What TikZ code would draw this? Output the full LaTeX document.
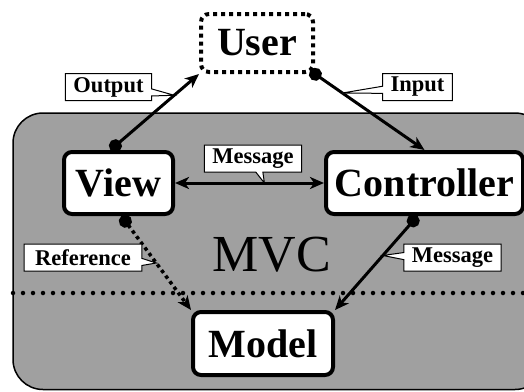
\documentclass[tikz,border=0pt]{standalone}
\usepackage{fontspec}
\setmainfont{Liberation Serif}
\usepackage{xcolor}
\usetikzlibrary{positioning, shapes.callouts, arrows.meta}
\definecolor{mvcgray}{RGB}{160,160,160}

\tikzset{
  part/.style={draw, line width=4pt, rounded corners=8pt, fill=white, minimum height=62pt,
    inner sep=0pt, font=\fontsize{40}{40}\selectfont\bfseries},
  tag/.style={rectangle callout, draw, line width=1pt, fill=white, inner xsep=8pt, inner ysep=0pt,
    minimum height=27pt, font=\fontsize{22.5}{24}\selectfont\bfseries},
  link/.style={line width=3pt, -{Stealth[length=14pt,width=12pt,inset=4pt]}},
  dotlink/.style={line width=3pt, {Circle[length=13pt]}-{Stealth[length=14pt,width=12pt,inset=4pt]}},
  twoway/.style={line width=3pt, {Stealth[length=14pt,width=12pt,inset=4pt]}-{Stealth[length=14pt,width=12pt,inset=4pt]}}
}

\begin{document}
\begin{tikzpicture}[x=1pt, y=-1pt]
      \useasboundingbox (0,0) rectangle (524,391);
      \clip (0,0) rectangle (524,391);

      \draw[fill=mvcgray, line width=1.5pt, rounded corners=30pt] (13,113) rectangle (545,389.5);
      \draw[line width=4.5pt, line cap=round, dash pattern=on 0pt off 10pt] (13,293) -- (524,293);

      \node[part, dash pattern=on 4pt off 4pt, minimum width=112pt, minimum height=58pt] (user) at (257,43) {User};
      \node[part, minimum width=109pt] (view) at (118.5,183) {View};
      \node[part, minimum width=197pt, right=149pt of view] (ctrl) {Controller};
      \node[part, minimum width=140pt, minimum height=63pt] (model) at (263,343.5) {Model};
      \node[font=\fontsize{52}{52}\selectfont] (mvc) at (272,255) {MVC};


      \draw[dotlink] ([xshift=-8pt]view.north) -- coordinate[pos=0.72] (outp) (user.south west);
      \draw[dotlink, shorten <=-6pt] (user.south east) -- coordinate[pos=0.25] (inp) (ctrl.north);
      \draw[twoway] (view.east) -- coordinate[pos=0.6] (msgp) (ctrl.west);
      \draw[dotlink, line width=3.5pt, dash pattern=on 3.5pt off 3.5pt] ([xshift=3pt]view.south) -- coordinate[pos=0.5] (refp) (model.north west);
      \draw[dotlink] ([xshift=-7pt]ctrl.south) -- coordinate[pos=0.42] (msgq) (model.north east);

      \node[tag, callout absolute pointer={(outp)}] (outl) at (108.5,87) {Output};
      \node[tag, callout absolute pointer={(inp)}] (inl) at (417.5,87) {Input};
      \node[tag, callout absolute pointer={(msgp)}] (msgl) at (253,158.5) {Message};
      \node[tag, inner xsep=11pt, callout absolute pointer={(refp)}] (refl) at (83,257.5) {Reference};
      \node[tag, callout absolute pointer={(msgq)}] (msgr) at (452.5,257.5) {Message};
\end{tikzpicture}
\end{document}
